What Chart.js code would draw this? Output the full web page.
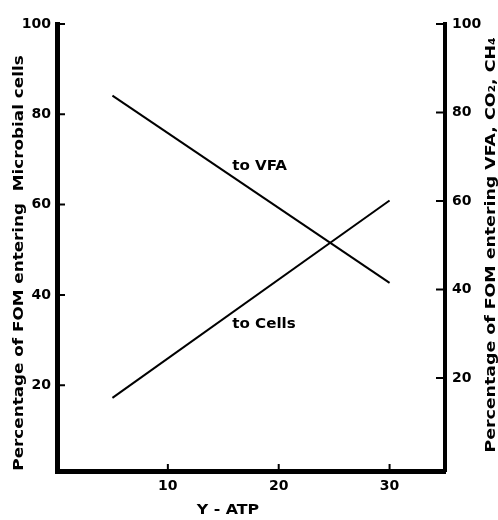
<!DOCTYPE html>
<html>
<head>
<meta charset="utf-8">
<script src="https://cdn.jsdelivr.net/npm/chart.js@4"></script>
<style>
  html, body { margin: 0; padding: 0; background: #fff; }
  #wrap { width: 498px; height: 520px; position: relative; }
</style>
</head>
<body>
<div id="wrap"><canvas id="chartContainer"></canvas></div>
<script>
// values
var yAtp = [5, 30];                  // x positions (Y-ATP)
var toCells = [17.2, 60.9];          // % FOM entering microbial cells (left axis)
var toVfa = [83.8, 41.5];            // % FOM entering VFA, CO2, CH4 (right axis)
var xTicks = [10, 20, 30];
var leftTicks = [20, 40, 60, 80, 100];
var rightTicks = [20, 40, 60, 80, 100];

var FONT = 'DejaVu Sans';

// text drawn a bit wider than the font, the scan uses an extended face
function wideText(ctx, text, x, y, angle, sx, align) {
  ctx.save();
  ctx.translate(x, y);
  ctx.rotate(angle);
  ctx.scale(sx, 1);
  ctx.textAlign = align || 'center';
  ctx.fillText(text, 0, 0);
  ctx.restore();
}

// short tick marks pointing into the plot, like the original
var innerTicks = {
  id: 'innerTicks',
  afterDraw: function(chart) {
    var ctx = chart.ctx, a = chart.chartArea, s = chart.scales;
    ctx.save();
    ctx.strokeStyle = '#000';
    ctx.lineWidth = 2;
    ctx.beginPath();
    s.y.ticks.forEach(function(t) {
      var py = s.y.getPixelForValue(t.value);
      ctx.moveTo(a.left, py); ctx.lineTo(a.left + 8, py);
    });
    s.y2.ticks.forEach(function(t) {
      var py = s.y2.getPixelForValue(t.value);
      ctx.moveTo(a.right, py); ctx.lineTo(a.right - 9, py);
    });
    s.x.ticks.forEach(function(t) {
      var px = s.x.getPixelForValue(t.value);
      ctx.moveTo(px, a.bottom); ctx.lineTo(px, a.bottom - 7);
    });
    ctx.stroke();

    // axis titles and line labels
    ctx.fillStyle = '#000';
    ctx.font = 'bold 14px "' + FONT + '"';
    ctx.textBaseline = 'middle';
    wideText(ctx, 'Percentage of FOM entering  Microbial cells', 19, 263, -Math.PI / 2, 1.2);
    wideText(ctx, 'Percentage of FOM entering VFA, CO\u2082, CH\u2084', 491, 245, -Math.PI / 2, 1.24);
    wideText(ctx, 'Y - ATP', 228, 510, 0, 1.13);

    wideText(ctx, 'to VFA', s.x.getPixelForValue(15.8), s.y.getPixelForValue(68.5), 0, 1.08, 'left');
    wideText(ctx, 'to Cells', s.x.getPixelForValue(15.8), s.y.getPixelForValue(33.5), 0, 1.08, 'left');
    ctx.restore();
  }
};

Chart.defaults.color = '#000';
Chart.defaults.font.family = FONT;

var ctx = document.getElementById('chartContainer').getContext('2d');
new Chart(ctx, {
  type: 'scatter',
  data: {
    datasets: [{
      label: 'to Cells',
      data: yAtp.map(function(x, i) { return {x: x, y: toCells[i]}; }),
      yAxisID: 'y',
      showLine: true,
      borderColor: '#000',
      borderWidth: 2,
      pointRadius: 0,
      fill: false
    }, {
      label: 'to VFA',
      data: yAtp.map(function(x, i) { return {x: x, y: toVfa[i]}; }),
      yAxisID: 'y2',
      showLine: true,
      borderColor: '#000',
      borderWidth: 2,
      pointRadius: 0,
      fill: false
    }]
  },
  options: {
    responsive: true,
    maintainAspectRatio: false,
    animation: false,
    layout: { padding: { top: 24, left: 0, right: 0, bottom: 0 } },
    plugins: { legend: { display: false }, tooltip: { enabled: false } },
    scales: {
      x: {
        type: 'linear',
        min: 0, max: 35,
        afterBuildTicks: function(sc) { sc.ticks = xTicks.map(function(v) { return {value: v}; }); },
        afterFit: function(sc) { sc.height = 49; },
        grid: { display: true, drawOnChartArea: false, drawTicks: false },
        border: { display: true, color: '#000', width: 5 },
        ticks: { padding: 7, font: { size: 14, weight: 'bold' }, maxRotation: 0 }
      },
      y: {
        type: 'linear',
        position: 'left',
        min: 1, max: 100,
        afterBuildTicks: function(sc) { sc.ticks = leftTicks.map(function(v) { return {value: v}; }); },
        afterFit: function(sc) { sc.width = 57; },
        grid: { display: true, drawOnChartArea: false, drawTicks: false },
        border: { display: true, color: '#000', width: 5 },
        ticks: { padding: 6, font: { size: 14, weight: 'bold' } }
      },
      y2: {
        type: 'linear',
        position: 'right',
        min: -1, max: 100,
        afterBuildTicks: function(sc) { sc.ticks = rightTicks.map(function(v) { return {value: v}; }); },
        afterFit: function(sc) { sc.width = 53; },
        grid: { display: true, drawOnChartArea: false, drawTicks: false },
        border: { display: true, color: '#000', width: 4 },
        ticks: { padding: 7, font: { size: 14, weight: 'bold' } }
      }
    }
  },
  plugins: [innerTicks]
});
</script>
</body>
</html>
